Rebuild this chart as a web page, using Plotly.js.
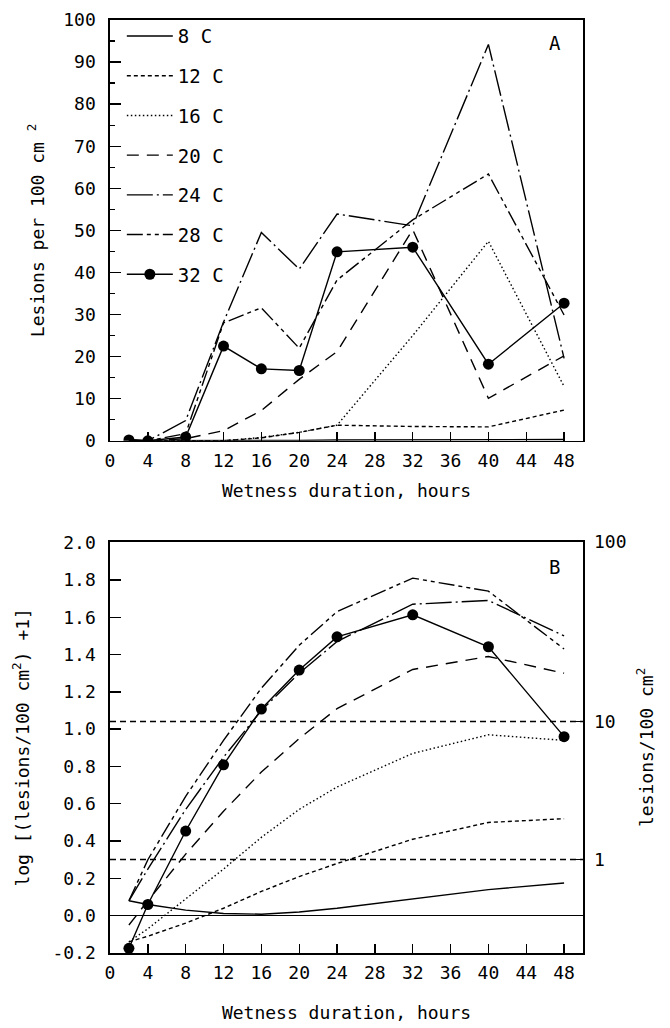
<!DOCTYPE html>
<html>
<head>
<meta charset="utf-8">
<script src="https://cdn.plot.ly/plotly-3.0.1.min.js"></script>
<style>html,body{margin:0;padding:0;background:#fff;}#chart{width:670px;height:1028px;}</style>
</head>
<body>
<div id="chart"></div>
<script>
// ---- data ----
const hours = [2, 4, 8, 12, 16, 20, 24, 32, 40, 48];
const seriesNames = ['8 C', '12 C', '16 C', '20 C', '24 C', '28 C', '32 C'];

// Panel A: lesions per 100 cm2
const a8  = [0, 0, 0.1, 0.1, 0.1, 0.1, 0.2, 0.2, 0.3, 0.3];
const a12 = [0, 0, 0, 0, 0.7, 2.0, 3.7, 3.4, 3.3, 7.3];
const a16 = [0, 0, 0, 0, 0.8, 2.0, 3.7, 25, 47.4, 12.9];
const a20 = [0, 0, 0.5, 2.4, 7.2, 14.6, 21.2, 50.2, 10.1, 20.2];
const a24 = [0.3, 0, 4.8, 28.2, 49.5, 40.8, 53.9, 51.1, 94.2, 19.6];
const a28 = [0, 0, 1.7, 28.0, 31.6, 22.0, 38.2, 52.5, 63.4, 29.9];
const a32 = [0.2, 0, 0.9, 22.5, 17.1, 16.7, 44.9, 46.0, 18.2, 32.7];

// Panel B: log[(lesions/100 cm2)+1]
const b8  = [0.08, 0.06, 0.03, 0.012, 0.008, 0.02, 0.04, 0.09, 0.14, 0.175];
const b12 = [-0.14, -0.11, -0.04, 0.04, 0.13, 0.21, 0.28, 0.41, 0.50, 0.52];
const b16 = [-0.14, -0.07, 0.09, 0.25, 0.42, 0.57, 0.69, 0.87, 0.97, 0.94];
const b20 = [-0.05, 0.08, 0.33, 0.56, 0.77, 0.95, 1.11, 1.32, 1.39, 1.30];
const b24 = [0.08, 0.25, 0.57, 0.85, 1.10, 1.30, 1.47, 1.67, 1.69, 1.50];
const b28 = [0.08, 0.30, 0.64, 0.94, 1.22, 1.45, 1.63, 1.81, 1.74, 1.43];
const b32 = [-0.175, 0.06, 0.454, 0.809, 1.108, 1.317, 1.495, 1.613, 1.442, 0.960];

// Right-axis reference values (lesions/100 cm2)
const refLesions = [1, 10];
const rightTickLesions = [1, 10, 100];
const rightTickText = ['1', '10', '100'];

// Tick labels
const xTickVals = [0, 4, 8, 12, 16, 20, 24, 28, 32, 36, 40, 44, 48];
const bTickVals = [-0.2, 0, 0.2, 0.4, 0.6, 0.8, 1.0, 1.2, 1.4, 1.6, 1.8, 2.0];
const bTickText = ['-0.2', '0.0', '0.2', '0.4', '0.6', '0.8', '1.0', '1.2', '1.4', '1.6', '1.8', '2.0'];

// ---- styles ----
const FONT = 'DejaVu Sans Mono';
const dashes = ['solid', '4px,3px', '1.5px,2.5px', '12px,8px', '26px,4px,2px,4px', '16px,4px,4px,4px,4px,4px', 'solid'];
const aData = [a8, a12, a16, a20, a24, a28, a32];
const bData = [b8, b12, b16, b20, b24, b28, b32];

const traces = [];
aData.forEach((ys, i) => {
  const isMarker = i === 6;
  traces.push({
    x: hours, y: ys, xaxis: 'x', yaxis: 'y',
    type: 'scatter', mode: isMarker ? 'lines+markers' : 'lines',
    name: seriesNames[i], legendgroup: 'g' + i,
    line: {color: '#000', width: 1.4, dash: dashes[i]},
    marker: {color: '#000', size: 11},
    showlegend: true
  });
});
bData.forEach((ys, i) => {
  const isMarker = i === 6;
  traces.push({
    x: hours, y: ys, xaxis: 'x2', yaxis: 'y2',
    type: 'scatter', mode: isMarker ? 'lines+markers' : 'lines',
    name: seriesNames[i], legendgroup: 'g' + i,
    line: {color: '#000', width: 1.4, dash: dashes[i]},
    marker: {color: '#000', size: 11},
    showlegend: false
  });
});
refLesions.forEach(v => {
  const ly = Math.log10(v + 1);
  traces.push({
    x: [0, 50], y: [ly, ly], xaxis: 'x2', yaxis: 'y2',
    type: 'scatter', mode: 'lines', showlegend: false, hoverinfo: 'skip',
    line: {color: '#000', width: 1.4, dash: '6px,4px'}
  });
});
// invisible trace to activate right axis
traces.push({x: [0], y: [0], xaxis: 'x2', yaxis: 'y3', type: 'scatter', mode: 'markers',
  marker: {opacity: 0}, showlegend: false, hoverinfo: 'skip'});

const axisCommon = {
  showgrid: false, zeroline: false, showline: true, linecolor: '#000', linewidth: 1.6,
  mirror: true, ticks: 'inside', tickcolor: '#000', tickwidth: 1.4,
  tickfont: {family: FONT, size: 18, color: '#000'}
};
const bRange = [-0.2, 2.005];

const layout = {
  width: 670, height: 1028,
  margin: {l: 110, r: 87, t: 20, b: 75},
  paper_bgcolor: '#fff', plot_bgcolor: '#fff',
  font: {family: FONT, size: 18, color: '#000'},
  showlegend: true,
  legend: {
    x: 0.025, y: 1.003, xanchor: 'left', yanchor: 'top',
    xref: 'paper', yref: 'paper',
    bgcolor: 'rgba(0,0,0,0)', borderwidth: 0,
    font: {family: FONT, size: 19, color: '#000'},
    itemwidth: 46,
    traceorder: 'grouped', tracegroupgap: 12
  },
  xaxis: Object.assign({}, axisCommon, {
    domain: [0, 1], anchor: 'y', range: [0, 50],
    tickmode: 'array', tickvals: xTickVals, ticklen: 9, ticklabelstandoff: 3,
    title: {text: 'Wetness duration, hours', font: {family: FONT, size: 18, color: '#000'}, standoff: 14}
  }),
  yaxis: Object.assign({}, axisCommon, {
    domain: [0.549, 1], anchor: 'x', range: [0, 100],
    dtick: 10, ticklen: 11, ticklabelstandoff: 9,
    minor: {dtick: 5, ticklen: 5, ticks: 'inside', tickcolor: '#000', tickwidth: 1.4},
    title: {text: 'Lesions per 100 cm <sup>2</sup>', font: {family: FONT, size: 18, color: '#000'}, standoff: 14}
  }),
  xaxis2: Object.assign({}, axisCommon, {
    domain: [0, 1], anchor: 'y2', range: [0, 50],
    tickmode: 'array', tickvals: xTickVals, ticklen: 9, ticklabelstandoff: 3,
    title: {text: 'Wetness duration, hours', font: {family: FONT, size: 18, color: '#000'}, standoff: 24}
  }),
  yaxis2: Object.assign({}, axisCommon, {
    domain: [0, 0.4408], anchor: 'x2', range: bRange,
    tickmode: 'array', tickvals: bTickVals, ticktext: bTickText, ticklen: 11, ticklabelstandoff: 9,
    zeroline: true, zerolinecolor: '#000', zerolinewidth: 1.4,
    title: {text: 'log [(lesions/100 cm<sup>2</sup>) +1]', font: {family: FONT, size: 18, color: '#000'}, standoff: 18}
  }),
  yaxis3: {
    overlaying: 'y2', anchor: 'x2', side: 'right', range: bRange,
    showgrid: false, zeroline: false, showline: false,
    ticks: 'inside', ticklen: 8, tickcolor: '#000', tickwidth: 1.4, ticklabelstandoff: 10,
    tickmode: 'array', tickvals: rightTickLesions.map(v => Math.log10(v + 1)), ticktext: rightTickText,
    tickfont: {family: FONT, size: 18, color: '#000'},
    title: {text: 'lesions/100 cm<sup>2</sup>', font: {family: FONT, size: 18, color: '#000'}, standoff: 14}
  },
  annotations: [
    {xref: 'x', yref: 'y', x: 47, y: 94.5, text: 'A', showarrow: false,
     font: {family: FONT, size: 19, color: '#000'}},
    {xref: 'x2', yref: 'y2', x: 47, y: 1.87, text: 'B', showarrow: false,
     font: {family: FONT, size: 19, color: '#000'}}
  ]
};

Plotly.newPlot('chart', traces, layout, {displayModeBar: false, staticPlot: true});
</script>
</body>
</html>
